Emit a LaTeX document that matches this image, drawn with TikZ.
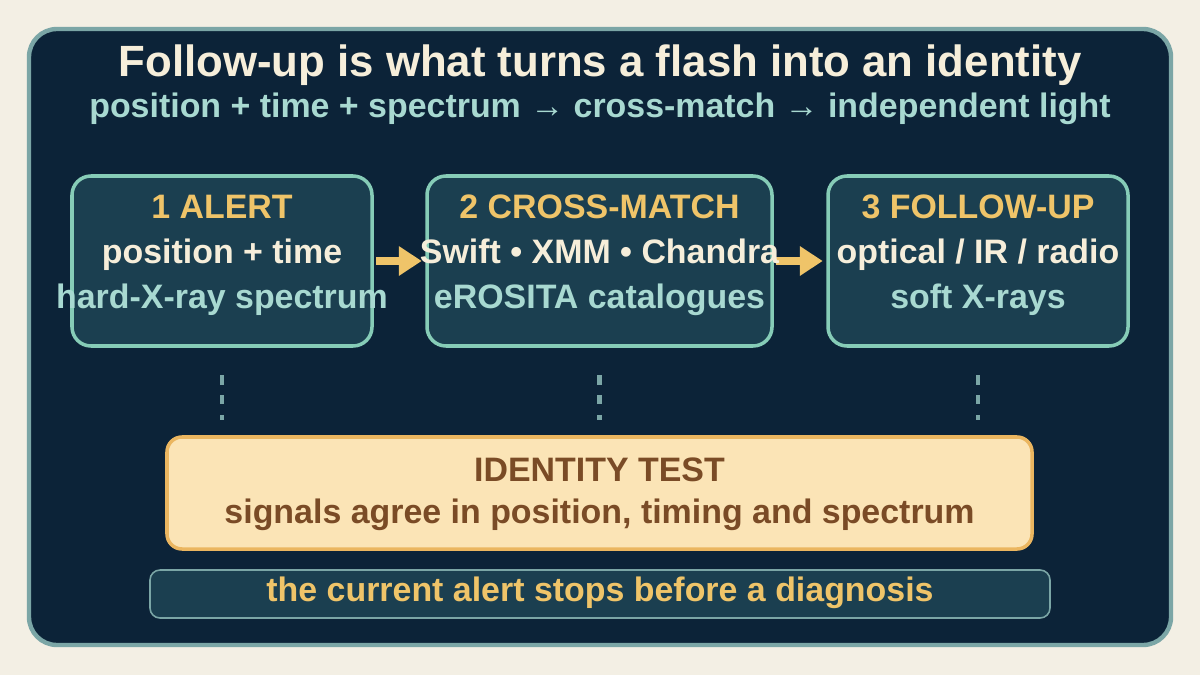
\documentclass[tikz,border=0pt]{standalone}
\usepackage{fontspec}
\setmainfont{Liberation Sans}
\usetikzlibrary{arrows.meta}
\definecolor{paper}{HTML}{F3EFE4}
\definecolor{panel}{HTML}{0C2338}
\definecolor{panelrim}{HTML}{7BA6A6}
\definecolor{stagefill}{HTML}{1B3F50}
\definecolor{stagerim}{HTML}{86CCB7}
\definecolor{gold}{HTML}{EFC469}
\definecolor{cream}{HTML}{F6EEDA}
\definecolor{mint}{HTML}{A8D9D1}
\definecolor{sand}{HTML}{FBE4B6}
\definecolor{sandrim}{HTML}{EBB660}
\definecolor{umber}{HTML}{7A4B26}
\def\bodyfont{\bfseries\fontsize{19.3}{23}\selectfont}
\def\titlefont{\bfseries\fontsize{24.9}{30}\selectfont}
\tikzset{
  stage/.style={draw=stagerim, fill=stagefill, line width=2pt, rounded corners=0.38cm,
    minimum width=6cm, minimum height=3.4cm, inner sep=0pt},
  txt/.style={font=\bodyfont, anchor=base, inner sep=0pt},
  flow/.style={draw=gold, line width=4pt, -{Triangle[length=13pt,width=16pt]},
    shorten <=1.5pt, shorten >=2pt},
  trace/.style={draw=panelrim, line width=2.3pt, dash pattern=on 5.3pt off 6pt,
    shorten <=0.55cm, shorten >=0.3cm}
}
\begin{document}
\begin{tikzpicture}
	%%%%% START %%%%%
	\useasboundingbox[fill=paper] (0,0) rectangle (24,13.5);
	\draw[fill=panel, draw=panelrim, line width=2.5pt, rounded corners=0.56cm] (0.58,0.6) rectangle (23.42,12.92);
	
	\node[txt, font=\titlefont, text=cream] (title) at (12,11.96) {Follow-up is what turns a flash into an identity};
	\node[txt, text=mint] (subtitle) at (12,11.14) {position + time + spectrum → cross-match → independent light};
	
	% the three stages
	\node[stage] (alert) at (4.44,8.28) {};
	\node[stage, minimum width=6.9cm] (match) at (11.99,8.28) {};
	\node[stage] (follow) at (19.56,8.28) {};
	
	\draw[flow] (alert.east) -- (match.west);
	\draw[flow] (match.east) -- (follow.west);
	
	\node[txt, text=gold] (alerthead) at (4.44,9.14) {1 ALERT};
	\node[txt, text=cream] (alertone) at (4.44,8.24) {position + time};
	\node[txt, text=mint] (alerttwo) at (4.44,7.34) {hard-X-ray spectrum};
	
	\node[txt, text=gold] (matchhead) at (11.99,9.14) {2 CROSS-MATCH};
	\node[txt, text=cream] (matchone) at (11.99,8.24) {Swift • XMM • Chandra};
	\node[txt, text=mint] (matchtwo) at (11.99,7.34) {eROSITA catalogues};
	
	\node[txt, text=gold] (followhead) at (19.56,9.14) {3 FOLLOW-UP};
	\node[txt, text=cream] (followone) at (19.56,8.24) {optical / IR / radio};
	\node[txt, text=mint] (followtwo) at (19.56,7.34) {soft X-rays};
	
	% identity test
	\node[draw=sandrim, fill=sand, line width=2pt, rounded corners=0.3cm,
	  minimum width=17.3cm, minimum height=2.24cm] (identity) at (11.99,3.64) {};
	\node[txt, text=umber] (identhead) at (11.99,3.87) {IDENTITY TEST};
	\node[txt, text=umber] (identline) at (11.99,3.04) {signals agree in position, timing and spectrum};
	
	\draw[trace] (alert.south) -- (alert.south |- identity.north);
	\draw[trace] (match.south) -- (match.south |- identity.north);
	\draw[trace] (follow.south) -- (follow.south |- identity.north);
	
	% closing note
	\node[draw=panelrim, fill=stagefill, line width=0.9pt, rounded corners=0.2cm,
	  minimum width=18cm, minimum height=0.96cm] (note) at (12,1.62) {};
	\node[txt, text=gold] (notetext) at (12,1.47) {the current alert stops before a diagnosis};
	%%%%% END %%%%%
\end{tikzpicture}
\end{document}
